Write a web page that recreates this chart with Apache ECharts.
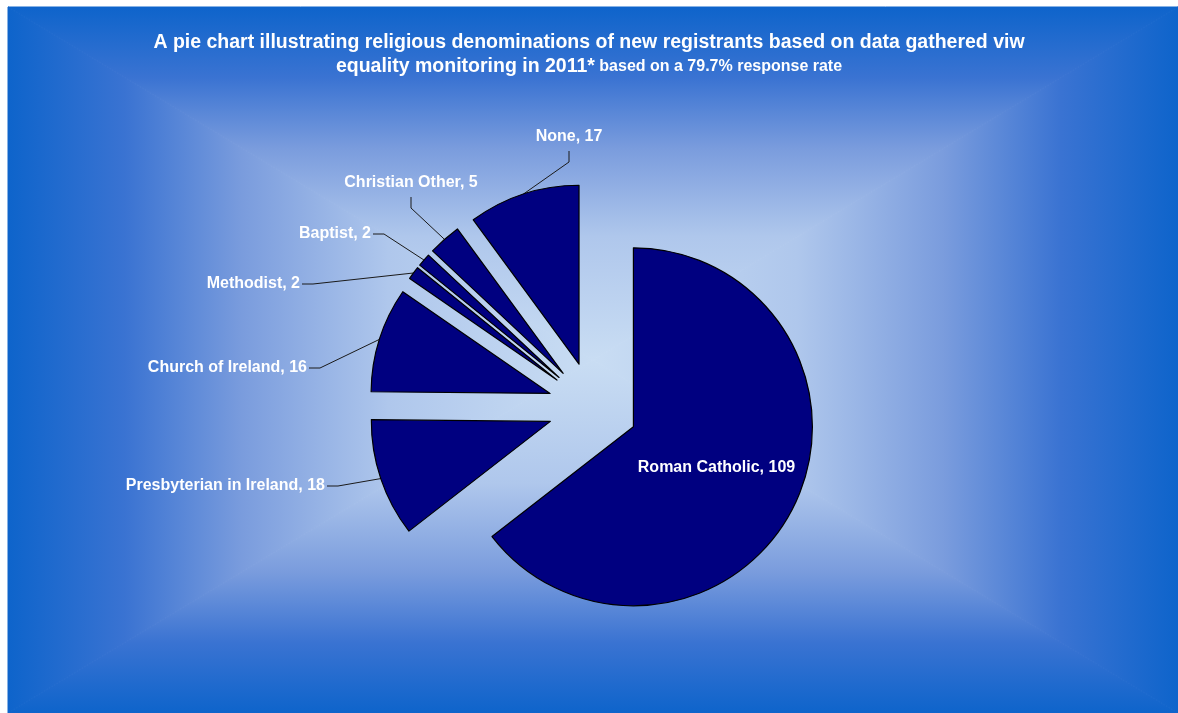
<!DOCTYPE html>
<html>
<head>
<meta charset="utf-8">
<script src="https://cdn.jsdelivr.net/npm/echarts@6/dist/echarts.min.js"></script>
<style>
  html, body { margin: 0; padding: 0; background: #fff; }
  #religionPie { width: 1178px; height: 713px; }
</style>
</head>
<body>
<div id="religionPie"></div>
<script>
// data
const categories = ['Roman Catholic', 'Presbyterian in Ireland', 'Church of Ireland', 'Methodist', 'Baptist', 'Christian Other', 'None'];
const counts = [109, 18, 16, 2, 2, 5, 17];

// where the outside labels sit (Excel style), null = label inside the slice
const labelSpots = [
  null,
  { x: 325, y: 486, align: 'right' },
  { x: 307, y: 368, align: 'right' },
  { x: 300, y: 284, align: 'right' },
  { x: 371, y: 234, align: 'right' },
  { x: 411, y: 183, align: 'center' },
  { x: 569, y: 137, align: 'center' }
];

const font = '"Liberation Sans", Arial, sans-serif';
const pieCenter = [593, 407];
const pieRadius = 179;
const explode = 45;

// rectangular "from centre" gradient, like the Excel chart area
const box = { l: 8, t: 7, r: 1178, b: 713 };
const mid = { x: (box.l + box.r) / 2, y: (box.t + box.b) / 2 };
const stops = [
  { offset: 0, color: '#0E64CB' },
  { offset: 0.2, color: '#3A73D2' },
  { offset: 0.4, color: '#7A9CDD' },
  { offset: 0.65, color: '#AFC7EC' },
  { offset: 1, color: '#C9DDF3' }
];
function grad(x, y, x2, y2) {
  return { type: 'linear', x: x, y: y, x2: x2, y2: y2, global: true, colorStops: stops };
}
function tri(points, fill) {
  return {
    type: 'polygon', z: -10, silent: true,
    shape: { points: points },
    style: { fill: fill, stroke: fill, lineWidth: 1 }
  };
}
const c = [mid.x, mid.y];
const bgGraphics = [
  tri([[box.l, box.t], [box.r, box.t], c], grad(0, box.t, 0, mid.y)),
  tri([[box.l, box.b], [box.r, box.b], c], grad(0, box.b, 0, mid.y)),
  tri([[box.l, box.t], [box.l, box.b], c], grad(box.l, 0, mid.x, 0)),
  tri([[box.r, box.t], [box.r, box.b], c], grad(box.r, 0, mid.x, 0))
];

// offset of an exploded slice (same rule the pie uses for selectedOffset)
const total = counts.reduce(function (a, b) { return a + b; }, 0);
function sliceShift(idx) {
  let before = 0;
  for (let i = 0; i < idx; i++) before += counts[i];
  const midAngle = -Math.PI / 2 + 2 * Math.PI * (before + counts[idx] / 2) / total;
  return [Math.cos(midAngle) * explode, Math.sin(midAngle) * explode];
}

const labelStyle = {
  color: '#fff',
  fontFamily: font,
  fontWeight: 'bold',
  fontSize: 16,
  formatter: '{b}, {c}'
};

const myChart = echarts.init(document.getElementById('religionPie'));

const option = {
  animation: false,
  graphic: bgGraphics,
  title: {
    left: 'center',
    top: 26,
    text: '{a|A pie chart illustrating religious denominations of new registrants based on data gathered viw}\n{a|equality monitoring in 2011*}{b| based on a 79.7% response rate}',
    textStyle: {
      fontFamily: font,
      rich: {
        a: { fontSize: 19.5, fontWeight: 'bold', color: '#fff', lineHeight: 24, fontFamily: font },
        b: { fontSize: 16, fontWeight: 'bold', color: '#fff', lineHeight: 24, fontFamily: font }
      }
    }
  },
  series: [{
    // the exploded slices
    type: 'pie',
    center: pieCenter,
    radius: pieRadius,
    startAngle: 90,
    clockwise: true,
    selectedMode: 'multiple',
    selectedOffset: explode,
    avoidLabelOverlap: false,
    itemStyle: { color: '#000080', borderColor: '#000', borderWidth: 1.2 },
    emphasis: { disabled: true },
    select: { itemStyle: { color: '#000080', borderColor: '#000', borderWidth: 1.2 } },
    label: Object.assign({ show: false, position: 'inside' }, labelStyle),
    labelLine: { show: false },
    data: categories.map(function (name, i) {
      const item = { name: name, value: counts[i], selected: true };
      if (!labelSpots[i]) item.label = { show: true };
      return item;
    })
  }, {
    // same pie, invisible, only carries the outside labels and leader lines
    type: 'pie',
    silent: true,
    center: pieCenter,
    radius: pieRadius,
    startAngle: 90,
    clockwise: true,
    avoidLabelOverlap: false,
    itemStyle: { color: 'rgba(0,0,0,0)', borderWidth: 0 },
    emphasis: { disabled: true },
    label: Object.assign({ show: true }, labelStyle),
    labelLine: { show: true, lineStyle: { color: '#1a1a1a', width: 1 } },
    labelLayout: function (params) {
      const spot = labelSpots[params.dataIndex];
      if (!spot) return {};
      const shift = sliceShift(params.dataIndex);
      const base = params.labelLinePoints[0];
      const p0 = [base[0] + shift[0], base[1] + shift[1]];
      let elbow, end;
      if (spot.align === 'right') {
        end = [spot.x + 2, spot.y];
        elbow = [spot.x + 13, spot.y];
      } else {
        end = [spot.x, spot.y + 14];
        elbow = [spot.x, spot.y + 25];
      }
      return {
        x: spot.x, y: spot.y, align: spot.align, verticalAlign: 'middle',
        labelLinePoints: [p0, elbow, end]
      };
    },
    data: categories.map(function (name, i) {
      const item = { name: name, value: counts[i] };
      if (!labelSpots[i]) {
        item.label = { show: false };
        item.labelLine = { show: false };
      }
      return item;
    })
  }]
};

myChart.setOption(option);
</script>
</body>
</html>
